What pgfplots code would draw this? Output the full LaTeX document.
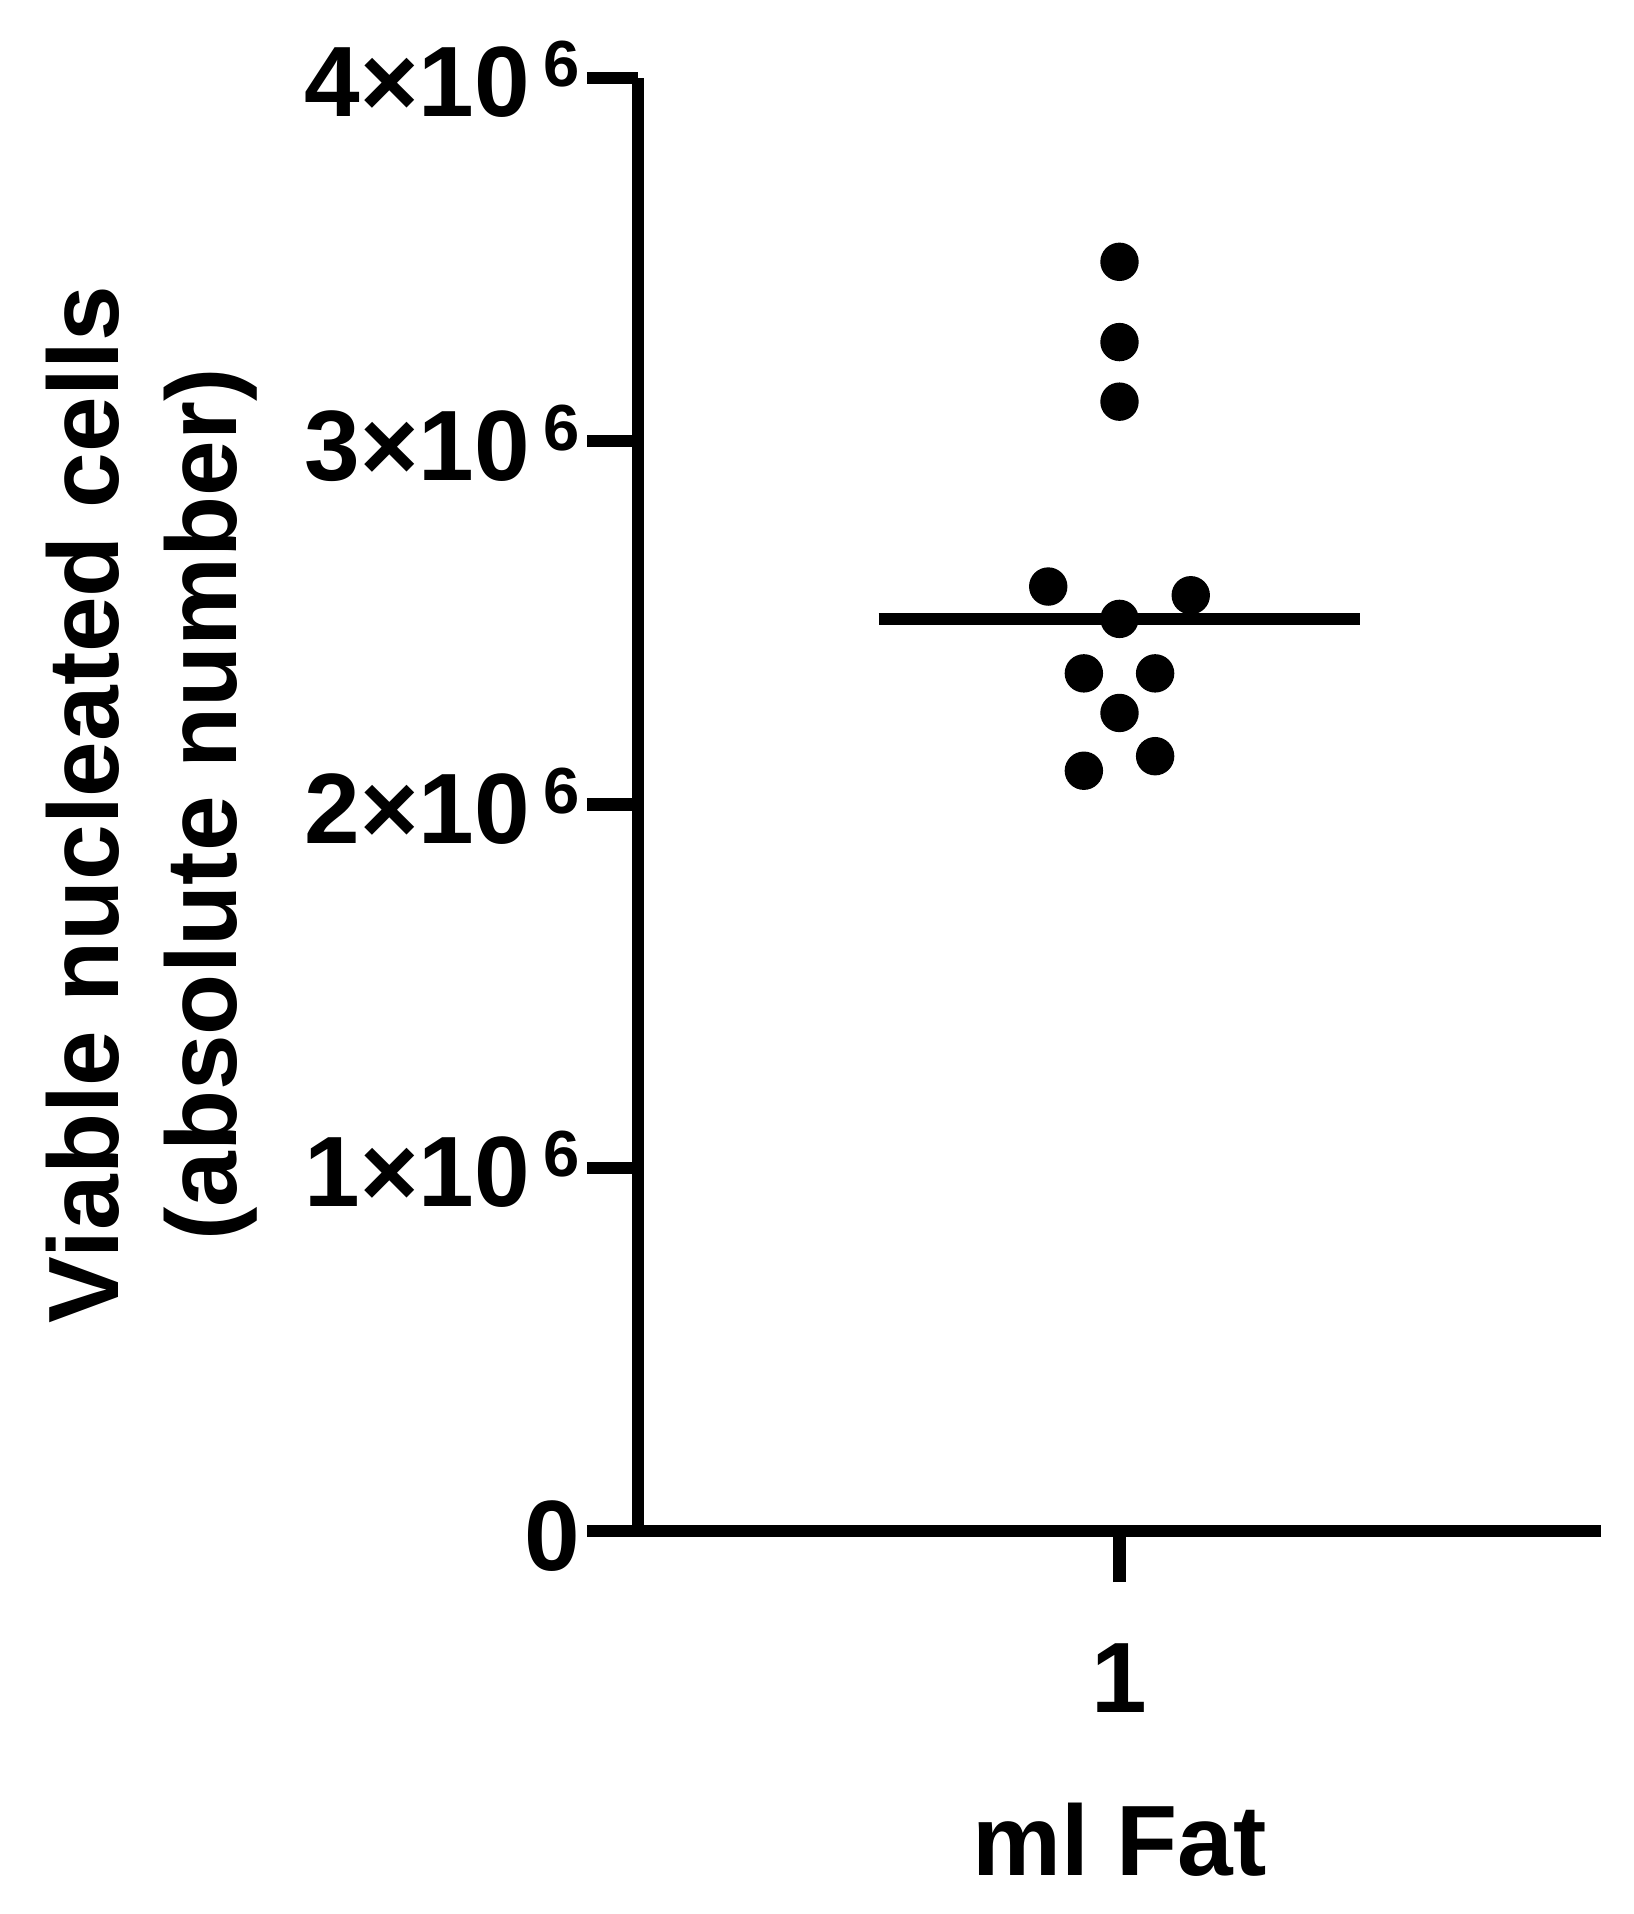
\documentclass[border=0pt]{standalone}
\usepackage{fontspec}
\setmainfont{Liberation Sans}
\usepackage{pgfplots}
\pgfplotsset{compat=1.18}

\newcommand{\lab}{\bfseries\fontsize{25}{29.6}\selectfont}
\newcommand{\sci}[1]{#1×10\hspace{3.5pt}\raisebox{7.5pt}{\fontsize{16.3}{16.3}\selectfont 6}}

\begin{document}
\begin{tikzpicture}
\useasboundingbox (-159.5pt,-95.75pt) rectangle (249pt,382.75pt);
\begin{axis}[
    at={(0,0)}, anchor=south west,
    scale only axis,
    width=240.75pt, height=363.25pt,
    xmin=0, xmax=2, ymin=0, ymax=4e6,
    enlargelimits=false,
    axis lines=left,
    axis line style={-, line width=3.1pt},
    tick style={line width=3.1pt, black},
    major tick length=12.75pt,
    tick align=outside,
    scaled y ticks=false,
    xtick={1}, xticklabels={1},
    ytick={0,1e6,2e6,3e6,4e6},
    yticklabels={0,\sci{1},\sci{2},\sci{3},\sci{4}},
    tick label style={font=\lab, inner sep=0pt},
    yticklabel style={anchor=base east, xshift=-1.5pt, yshift=-9.75pt},
    xticklabel style={anchor=base, yshift=-32.5pt},
    xlabel={ml Fat},
    xlabel style={font=\lab, inner sep=0pt, at={(axis cs:1,0)}, anchor=base, yshift=-86pt},
    ylabel={Viable nucleated cells\\(absolute number)},
    ylabel style={font=\lab, align=center, inner sep=0pt, at={(rel axis cs:-0.3946,0.5)}, anchor=south},
    clip=false,
]
% individual data points
\addplot[only marks, mark=*, mark size=4.6pt, mark options={fill=black, draw=black, line width=0.4pt}] coordinates {
    (1, 3.494e6) (1, 3.273e6) (1, 3.109e6)
    (0.852, 2.600e6) (1.148, 2.576e6) (1, 2.511e6)
    (0.926, 2.361e6) (1.074, 2.361e6) (1, 2.252e6)
    (1.074, 2.133e6) (0.926, 2.093e6)
};
% median
\addplot[black, line width=3.1pt] coordinates {(0.5, 2.511e6) (1.5, 2.511e6)};
\end{axis}
\end{tikzpicture}
\end{document}
